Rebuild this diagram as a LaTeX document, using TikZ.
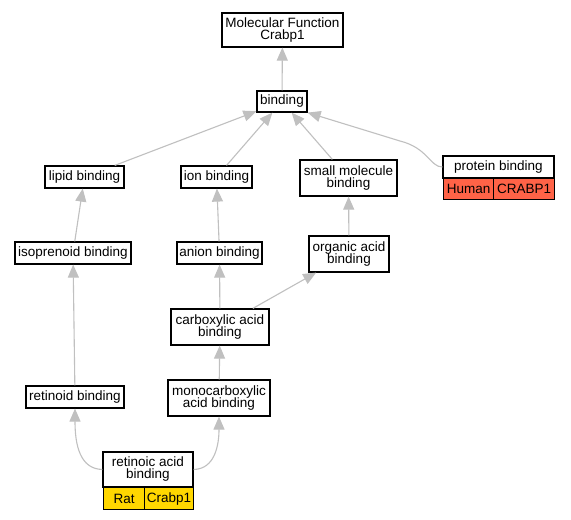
\documentclass[tikz,border=0pt]{standalone}
\usepackage{fontspec}
\setmainfont{Liberation Sans}
\usetikzlibrary{arrows.meta,calc}
\definecolor{edgegray}{HTML}{C0C0C0}
\definecolor{humanred}{HTML}{FF6347}
\definecolor{ratgold}{HTML}{FFD700}
\begin{document}
\begin{tikzpicture}[x=1pt,y=-1pt,
  every node/.style={font=\fontsize{13.5}{14}\selectfont},
  term/.style={draw=black,line width=1.2pt,fill=white,inner sep=0pt,align=center},
  cell/.style={draw=black,line width=1.2pt,inner sep=0pt,anchor=north west},
  edge/.style={draw=edgegray,line width=1.1pt,-{Triangle[length=13pt,width=11pt]}}]
\useasboundingbox[fill=white] (0,0) rectangle (571,520);
% terms
\node[term,minimum width=121pt,minimum height=34pt] (mf) at (282.5,30) {Molecular Function\\[-2pt]Crabp1};
\node[term,minimum width=50pt,minimum height=21pt] (bind) at (282,101.5) {binding};
\node[term,minimum width=79pt,minimum height=22pt] (lipid) at (84.5,177) {lipid binding};
\node[term,minimum width=71pt,minimum height=22pt] (ion) at (216.5,177) {ion binding};
\node[term,minimum width=97pt,minimum height=36pt] (small) at (348.5,178) {small molecule\\[-2pt]binding};
\node[term,minimum width=111pt,minimum height=22pt] (prot) at (498.5,167) {protein binding};
\node[cell,fill=humanred,minimum width=50pt,minimum height=21pt] (human) at (443,178) {Human};
\node[cell,fill=humanred,minimum width=61pt,minimum height=21pt] (crabpH) at (493,178) {CRABP1};
\node[term,minimum width=116pt,minimum height=22pt] (iso) at (73,253) {isoprenoid binding};
\node[term,minimum width=85pt,minimum height=22pt] (anion) at (219.5,253) {anion binding};
\node[term,minimum width=80pt,minimum height=36pt] (org) at (349,254) {organic acid\\[-2pt]binding};
\node[term,minimum width=98pt,minimum height=36pt] (carb) at (220,327) {carboxylic acid\\[-2pt]binding};
\node[term,minimum width=98pt,minimum height=22pt] (retd) at (75,397) {retinoid binding};
\node[term,minimum width=102pt,minimum height=36pt] (mono) at (219,398) {monocarboxylic\\[-2pt]acid binding};
\node[term,minimum width=90pt,minimum height=35pt] (reta) at (148,469.5) {retinoic acid\\[-2pt]binding};
\node[cell,fill=ratgold,minimum width=41pt,minimum height=22pt] (rat) at (103,487) {Rat};
\node[cell,fill=ratgold,minimum width=49pt,minimum height=22pt] (crabpR) at (144,487) {Crabp1};
% edges
\draw[edge] (bind) -- (mf);
\draw[edge] (lipid) -- (bind);
\draw[edge] (ion) -- (bind);
\draw[edge] (small) -- (bind);
\coordinate (pbend) at (400,141);
\draw[edge] (prot.west) .. controls (430,167) and (428,148) .. (pbend) -- (bind.south east);
\draw[edge] (iso) -- (lipid);
\draw[edge] (anion) -- (ion);
\draw[edge] (org) -- (small);
\draw[edge] (carb) -- (org);
\draw[edge] (carb) -- (anion);
\draw[edge] (retd) -- (iso);
\draw[edge] (mono) -- (carb);
\draw[edge] (reta.west) .. controls (80,469) and (75,445) .. (retd.south);
\draw[edge] (reta.east) .. controls (215,469) and (219,445) .. (mono.south);
\end{tikzpicture}
\end{document}
